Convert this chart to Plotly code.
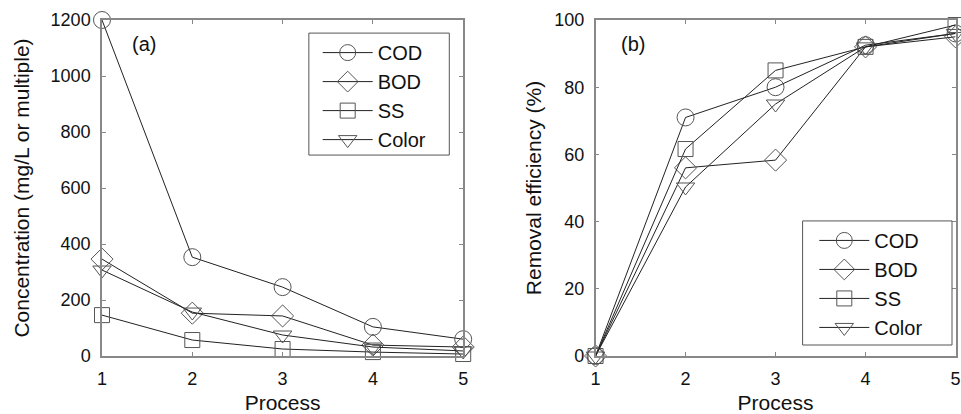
import plotly.graph_objects as go

process = [1, 2, 3, 4, 5]
series_names = ["COD", "BOD", "SS", "Color"]
symbols = ["circle-open", "diamond-open", "square-open", "triangle-down-open"]
marker_sizes = [17, 17, 15, 16]

conc_cod = [1200, 353, 246, 104, 60]
conc_bod = [346, 153, 143, 39, 32]
conc_ss = [146, 57, 25, 14, 7]
conc_color = [307, 157, 75, 32, 18]

rem_cod = [0, 71, 80, 92.5, 96]
rem_bod = [0, 56, 58.3, 92, 95]
rem_ss = [0, 61.6, 85, 92, 98.5]
rem_color = [0, 50.3, 75, 92, 96]

conc = [conc_cod, conc_bod, conc_ss, conc_color]
rem = [rem_cod, rem_bod, rem_ss, rem_color]

FONT = "Liberation Sans, Arial, sans-serif"
line_color = "#222222"
marker_color = "#555555"
TITLE_SIZE = 21
TICK_SIZE = 18

fig = go.Figure()
for name, sym, ms, yv in zip(series_names, symbols, marker_sizes, conc):
    fig.add_trace(go.Scatter(
        x=process, y=yv, name=name, mode="lines+markers",
        line=dict(color=line_color, width=1),
        marker=dict(symbol=sym, size=ms, color=marker_color, line=dict(width=1, color=marker_color)),
        cliponaxis=False, xaxis="x", yaxis="y", legend="legend"))
for name, sym, ms, yv in zip(series_names, symbols, marker_sizes, rem):
    fig.add_trace(go.Scatter(
        x=process, y=yv, name=name, mode="lines+markers",
        line=dict(color=line_color, width=1),
        marker=dict(symbol=sym, size=ms, color=marker_color, line=dict(width=1, color=marker_color)),
        cliponaxis=False, xaxis="x2", yaxis="y2", legend="legend2"))

axis_common = dict(
    showline=True, linecolor="#888888", linewidth=1.5, mirror="ticks",
    ticks="inside", ticklen=4, tickcolor="#888888", showgrid=False, zeroline=False,
    tickfont=dict(family=FONT, size=TICK_SIZE, color="#111111"),
    ticklabelstandoff=6,
)

fig.update_layout(
    width=961, height=414,
    margin=dict(l=0, r=0, t=20, b=58),
    paper_bgcolor="white", plot_bgcolor="white",
    font=dict(family=FONT, color="#111111"),
    xaxis=dict(domain=[0.102, 0.4818], range=[1, 5], dtick=1, anchor="y",
               title=dict(text="Process", font=dict(family=FONT, size=TITLE_SIZE), standoff=8), **axis_common),
    yaxis=dict(domain=[0, 1], range=[0, 1200], dtick=200, anchor="x",
               title=dict(text="Concentration (mg/L or multiple)", font=dict(family=FONT, size=TITLE_SIZE), standoff=15), **axis_common),
    xaxis2=dict(domain=[0.621, 0.9995], range=[1, 5], dtick=1, anchor="y2",
                title=dict(text="Process", font=dict(family=FONT, size=TITLE_SIZE), standoff=8), **axis_common),
    yaxis2=dict(domain=[0, 1], range=[0, 100], dtick=20, anchor="x2",
                title=dict(text="Removal efficiency (%)", font=dict(family=FONT, size=TITLE_SIZE), standoff=7), **axis_common),
    legend=dict(x=0.3288, y=0.961, xanchor="left", yanchor="top",
                borderwidth=0, bgcolor="rgba(0,0,0,0)",
                font=dict(family=FONT, size=20), tracegroupgap=0, itemwidth=50),
    legend2=dict(x=0.851, y=0.402, xanchor="left", yanchor="top",
                 borderwidth=0, bgcolor="rgba(0,0,0,0)",
                 font=dict(family=FONT, size=20), tracegroupgap=0, itemwidth=50),
    showlegend=True,
    shapes=[
        dict(type="rect", xref="paper", yref="paper", x0=0.3195, x1=0.4672, y0=0.598, y1=0.961,
             line=dict(color="#555555", width=1), fillcolor="white", layer="above"),
        dict(type="rect", xref="paper", yref="paper", x0=0.8387, x1=0.9958, y0=0.0327, y1=0.402,
             line=dict(color="#555555", width=1), fillcolor="white", layer="above"),
    ],
    annotations=[
        dict(text="(a)", x=1.47, y=1114, xref="x", yref="y", showarrow=False,
             font=dict(family=FONT, size=20, color="#111111")),
        dict(text="(b)", x=1.42, y=92.9, xref="x2", yref="y2", showarrow=False,
             font=dict(family=FONT, size=20, color="#111111")),
    ],
)

fig.write_html("out.html")
